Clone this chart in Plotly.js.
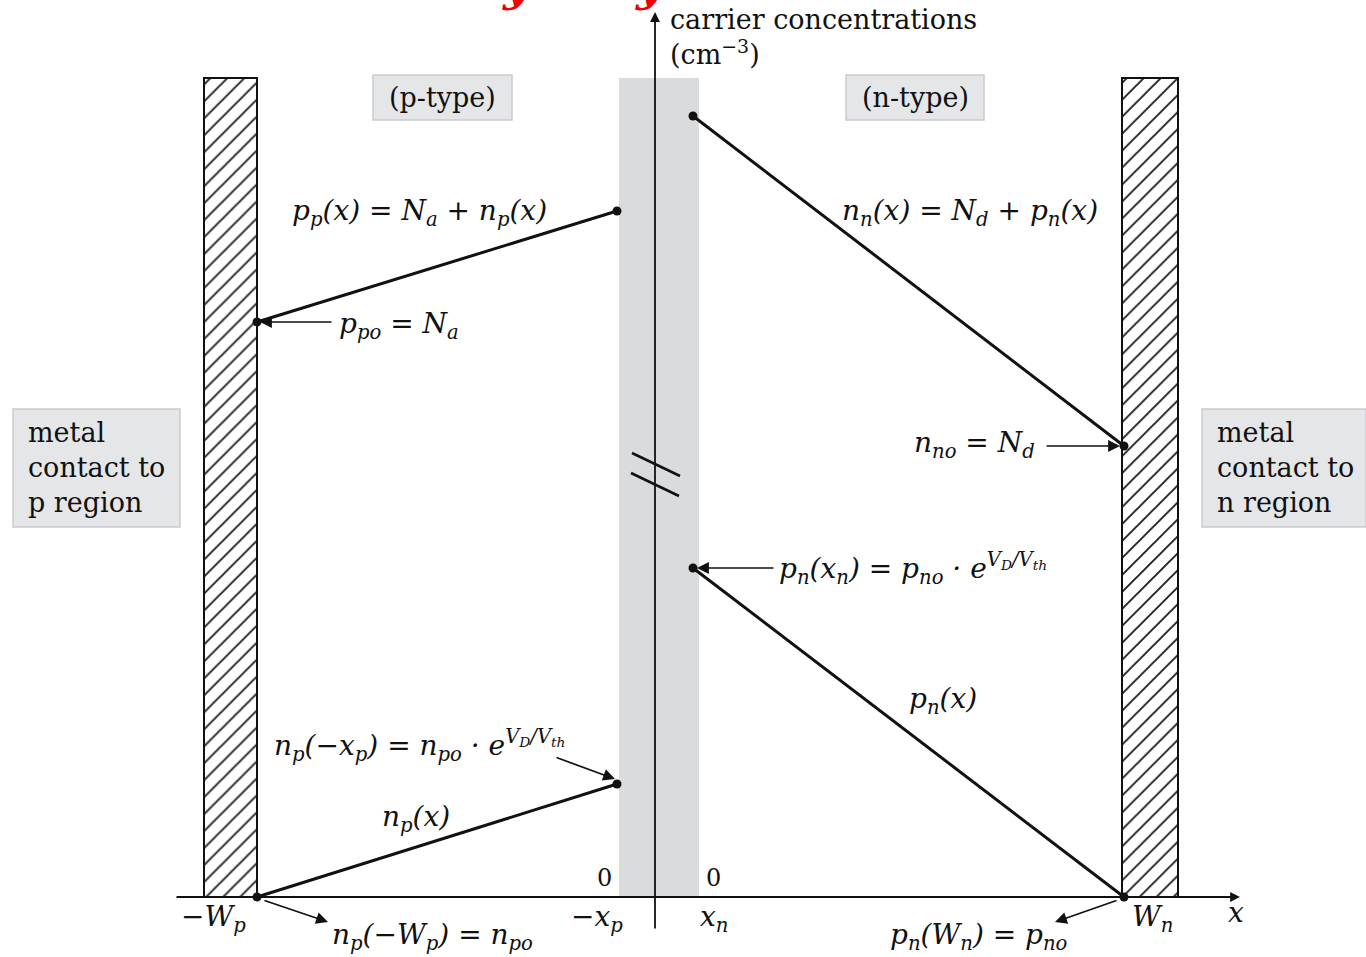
<!DOCTYPE html>
<html><head><meta charset="utf-8">
<script src="https://cdn.plot.ly/plotly-3.0.1.min.js"></script>
<style>html,body{margin:0;padding:0;background:#fff}#chart{width:1366px;height:957px}</style>
</head><body><div id="chart"></div>
<script>
// x positions in diagram units (origin at the metallurgical junction)
const xNames = ['−W<sub>p</sub>', '−x<sub>p</sub>', 'x<sub>n</sub>', 'W<sub>n</sub>'];
const xPos = [-398, -38, 38, 469];
// carrier concentration profiles
const ppX = [-398, -38], ppY = [575, 686];   // majority holes, p side
const npX = [-398, -38], npY = [0, 113];     // minority electrons, p side
const nnX = [38, 469],  nnY = [781, 451];    // majority electrons, n side
const pnX = [38, 469],  pnY = [329, 0];      // minority holes, n side
// depletion region and metal contacts
const depletion = [-36, 44];
const contactX = [-424.5, 495], contactW = [53, 56], contactH = [819, 819];
// axis-break marks on the vertical axis
const breakX = [[-23, 25], [-24, 24]], breakY = [[444, 421], [424, 401]];
// region / contact label boxes: [x0, x1, y0, y1]
const boxNames = ['(p-type)', '(n-type)', 'metal<br>contact to<br>p region', 'metal<br>contact to<br>n region'];
const boxRects = [[-282, -143, 777, 822], [191, 329, 777, 822], [-642, -475, 370, 488], [547, 711, 370, 488]];

const INK = '#111';
const SERIF = 'DejaVu Serif, Liberation Serif, serif';

function profile(x, y) {
  return {type: 'scatter', mode: 'lines+markers', x: x, y: y,
    line: {color: INK, width: 3}, marker: {color: INK, size: 9}, hoverinfo: 'skip'};
}
const traces = [
  {type: 'bar', x: contactX, y: contactH, width: contactW, base: 0,
   marker: {color: '#fff', line: {color: INK, width: 2},
            pattern: {shape: '/', size: 12, solidity: 0.16, fgcolor: '#222', bgcolor: '#fff'}},
   hoverinfo: 'skip'},
  profile(ppX, ppY), profile(npX, npY), profile(nnX, nnY), profile(pnX, pnY)
];

const shapes = [
  {type: 'rect', xref: 'x', yref: 'y', x0: depletion[0], x1: depletion[1], y0: 0, y1: contactH[0],
   fillcolor: '#d9dbdc', line: {width: 0}, layer: 'below'}
];
breakX.forEach((bx, i) => shapes.push({type: 'line', xref: 'x', yref: 'y',
  x0: bx[0], x1: bx[1], y0: breakY[i][0], y1: breakY[i][1], line: {color: INK, width: 2.5}}));
boxRects.forEach(r => shapes.push({type: 'rect', xref: 'x', yref: 'y', x0: r[0], x1: r[1], y0: r[2], y1: r[3],
  fillcolor: '#e4e6e8', line: {color: '#c9cccf', width: 1.5}, layer: 'below'}));

const ann = [];
function txt(text, x, y, o) {
  o = o || {};
  ann.push(Object.assign({x: x, y: y, xref: 'x', yref: 'y', text: text, showarrow: false,
    xanchor: 'left', yanchor: 'middle', align: 'left',
    font: {family: SERIF, size: o.size || 28, color: INK, style: o.italic === false ? 'normal' : 'italic'}}, o.extra || {}));
}
function arrow(x, y, ax, ay, o) {
  ann.push(Object.assign({x: x, y: y, ax: ax, ay: ay, xref: 'x', yref: 'y', axref: 'x', ayref: 'y',
    text: '', showarrow: true, arrowhead: 2, arrowsize: 1.4, arrowwidth: 1.7, arrowcolor: INK,
    standoff: 0, startstandoff: 0}, o || {}));
}

// axes
arrow(0, 885, 0, -33, {arrowwidth: 1.8, arrowsize: 1.1});
arrow(585, 0, -480, 0, {arrowwidth: 1.8, arrowsize: 1.1});

// region boxes text
boxNames.forEach((t, i) => {
  const r = boxRects[i];
  if (i < 2) txt(t, (r[0] + r[1]) / 2, (r[2] + r[3]) / 2, {italic: false, size: 27, extra: {xanchor: 'center'}});
  else txt(t, r[0] + 13, (r[2] + r[3]) / 2 + 1, {italic: false, size: 27});
});

// vertical axis title
txt('carrier concentrations<br>(cm<sup>−3</sup>)', 13, 895, {italic: false, size: 27, extra: {yanchor: 'top'}});

// curve labels
txt('p<sub>p</sub>(x) = N<sub>a</sub> + n<sub>p</sub>(x)', -365, 685);
txt('p<sub>po</sub> = N<sub>a</sub>', -318, 572);
arrow(-395, ppY[0], -322, ppY[0]);
txt('n<sub>n</sub>(x) = N<sub>d</sub> + p<sub>n</sub>(x)', 185, 685);
txt('n<sub>no</sub> = N<sub>d</sub>', 257, 453);
arrow(465, nnY[1], 390, nnY[1]);
txt('p<sub>n</sub>(x<sub>n</sub>) = p<sub>no</sub> · e<sup>V<sub>D</sub>/V<sub>th</sub></sup>', 122, 329);
arrow(42, pnY[0], 120, pnY[0]);
txt('p<sub>n</sub>(x)', 252, 197);
txt('n<sub>p</sub>(−x<sub>p</sub>) = n<sub>po</sub> · e<sup>V<sub>D</sub>/V<sub>th</sub></sup>', -383, 152);
arrow(-40, 118, -100, 140);
txt('n<sub>p</sub>(x)', -275, 79);
txt('n<sub>p</sub>(−W<sub>p</sub>) = n<sub>po</sub>', -325, -39);
arrow(-327, -25, -392, -3);
txt('p<sub>n</sub>(W<sub>n</sub>) = p<sub>no</sub>', 233, -39);
arrow(400, -25, 463, -3);

// zero marks and x positions
txt('0', -51, 19, {italic: false, size: 24, extra: {xanchor: 'center'}});
txt('0', 58, 19, {italic: false, size: 24, extra: {xanchor: 'center'}});
const xLabelOffset = [-44, -20, 21, 28];
xNames.forEach((t, i) => txt(t, xPos[i] + xLabelOffset[i], -21, {extra: {xanchor: 'center'}}));
txt('x', 571, -15);

// fragment of a red heading cut off at the top edge
['y', 'y'].forEach((t, i) => ann.push({x: [-138, -5][i], y: 884, xref: 'x', yref: 'y', text: '<b>' + t + '</b>',
  showarrow: false, xanchor: 'center', yanchor: 'bottom',
  font: {family: SERIF, size: 46, color: '#f00000', style: 'italic'}}));

const layout = {
  width: 1366, height: 957, margin: {l: 0, r: 0, t: 0, b: 0},
  paper_bgcolor: '#fff', plot_bgcolor: '#fff', showlegend: false,
  xaxis: {range: [-655, 711], visible: false, fixedrange: true},
  yaxis: {range: [-60, 897], visible: false, fixedrange: true},
  shapes: shapes, annotations: ann, bargap: 0
};
Plotly.newPlot('chart', traces, layout, {displayModeBar: false, staticPlot: true});
</script>
</body></html>
